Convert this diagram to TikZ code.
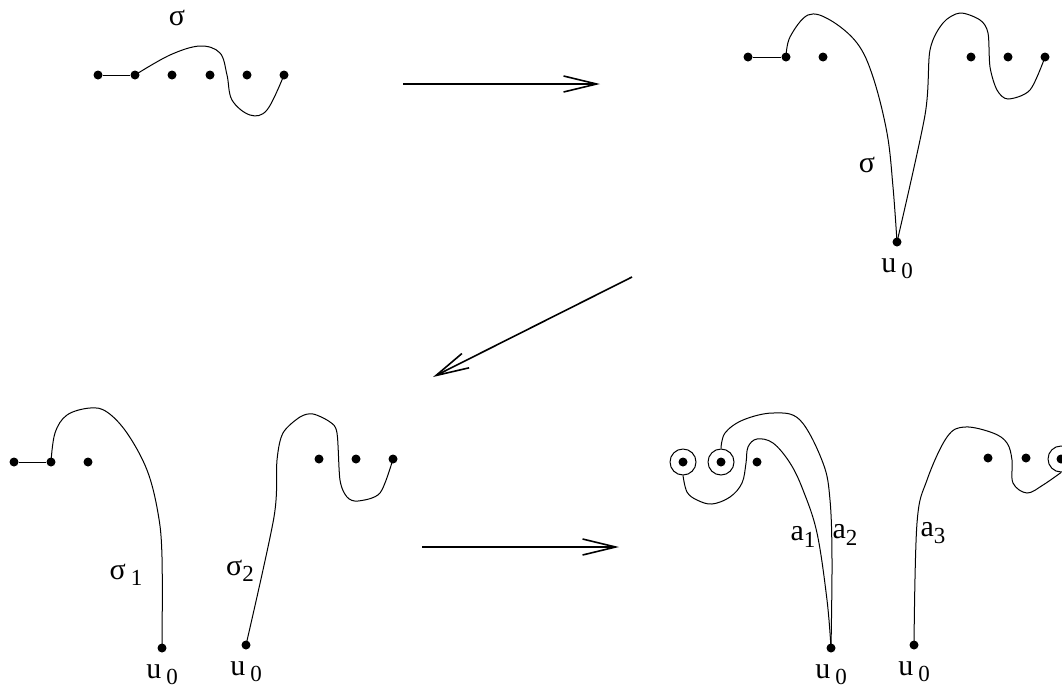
\documentclass[tikz,border=0pt]{standalone}
\usepackage{fontspec}
\setmainfont{Liberation Serif}
\usetikzlibrary{arrows.meta, positioning}

\newcommand{\lowsub}[1]{\raisebox{-0.45ex}{\fontsize{23}{26}\selectfont #1}}

\begin{document}
\begin{tikzpicture}[
  x=1pt, y=-1pt,
  dot/.style={circle, fill=black, inner sep=0pt, minimum size=9pt},
  ring/.style={circle, draw=black, line width=1pt, inner sep=0pt, minimum size=26pt},
  curve/.style={line width=1pt, black},
  bigarrow/.style={-{Straight Barb[length=33pt, width=16pt, line width=1.6pt]}, line width=1.6pt},
  lbl/.style={font=\fontsize{30}{34}\selectfont, inner sep=0pt}
]
\useasboundingbox (0,0) rectangle (1062,689);

% Step 1: the curve sigma over the punctures
\foreach \n/\x in {1/98, 2/135, 3/172, 4/210, 5/247, 6/284}
  \node[dot] (p\n) at (\x,75) {};
\draw[curve] (p1) -- (p2);
\draw[curve] plot[smooth, tension=0.6] coordinates {(p2.center) (170,55) (200,46) (220,53) (227,75) (232,100) (250,115) (267,110) (p6.center)};
\node[lbl] (s0) at (177,18) {σ};

% Step 2: sigma pulled to the base point
\foreach \n/\x in {1/748, 2/786, 3/823, 4/971, 5/1008, 6/1045}
  \node[dot] (q\n) at (\x,57) {};
\node[dot] (u1) at (897,242) {};
\draw[curve] (q1) -- (q2);
\draw[curve] plot[smooth, tension=0.6] coordinates {(q2.center) (790,37) (808,15) (830,20) (857,43) (873,77) (887,133) (893,187) (u1.center)};
\draw[curve] plot[smooth, tension=0.5] coordinates {(u1.center) (925,115) (930,50) (943,23) (960,13) (980,20) (988,33) (990,67) (997,90) (1008,99) (1030,90) (q6.center)};
\node[lbl] at (867,165) {σ};
\node[lbl, below=12pt of u1] {u\,\lowsub{0}};

% Step 3: split into sigma_1 and sigma_2
\foreach \n/\x in {1/14, 2/51, 3/88}
  \node[dot] (r\n) at (\x,462) {};
\foreach \n/\x in {1/319, 2/356, 3/393}
  \node[dot] (t\n) at (\x,459) {};
\node[dot] (u2) at (162,648) {};
\node[dot] (u3) at (246,645) {};
\draw[curve] (r1) -- (r2);
\draw[curve] plot[smooth, tension=0.6] coordinates {(r2.center) (55,433) (67,415) (90,408) (107,412) (127,433) (147,470) (158,513) (162,557) (u2.center)};
\draw[curve] plot[smooth, tension=0.5] coordinates {(u3.center) (274,517) (277,460) (283,433) (300,417) (313,414) (330,422) (337,433) (340,480) (347,497) (358,501) (380,493) (t3.center)};
\node[lbl] at (126,575) {σ\,\lowsub{1}};
\node[lbl] at (240,571) {σ\lowsub{2}};
\node[lbl, below=12pt of u2] {u\,\lowsub{0}};
\node[lbl, below=12pt of u3] {u\,\lowsub{0}};

% Step 4: arcs a_1, a_2, a_3
\node[dot] (d1) at (683,462) {};
\node[ring] (c1) at (683,462) {};
\node[dot] (d2) at (721,462) {};
\node[ring] (c2) at (721,462) {};
\node[dot] (d3) at (757,462) {};
\node[dot] (u4) at (831,648) {};
\node[dot] (d4) at (988,458) {};
\node[dot] (d5) at (1026,458) {};
\node[dot] (d6) at (1061,459) {};
\node[ring] (c3) at (1061,459) {};
\node[dot] (u5) at (914,645) {};
\draw[curve] plot[smooth, tension=0.6] coordinates {(c1.south) (687,492) (697,500) (712,504) (730,497) (742,483) (746,463) (748,447) (757,439) (773,443) (790,463) (803,490) (817,533) (827,600) (u4.center)};
\draw[curve] plot[smooth, tension=0.6] coordinates {(c2.north) (725,433) (743,420) (773,413) (800,420) (823,463) (830,500) (832,560) (u4.center)};
\draw[curve] plot[smooth, tension=0.6] coordinates {(u5.center) (917,523) (927,480) (947,437) (965,427) (993,433) (1007,443) (1012,460) (1013,483) (1027,493) (1043,485) (c3.south)};
\node[lbl] at (803,537) {a\lowsub{1}};
\node[lbl] at (845,535) {a\lowsub{2}};
\node[lbl] at (933,533) {a\lowsub{3}};
\node[lbl, below=12pt of u4] {u\,\lowsub{0}};
\node[lbl, below=12pt of u5] {u\,\lowsub{0}};

% Arrows between steps
\coordinate (A1) at (403,84);
\coordinate (B1) at (600,84);
\coordinate (A2) at (632,277);
\coordinate (B2) at (433,377);
\coordinate (A3) at (422,547);
\coordinate (B3) at (619,547);
\draw[bigarrow] (A1) -- (B1);
\draw[bigarrow] (A2) -- (B2);
\draw[bigarrow] (A3) -- (B3);

\end{tikzpicture}
\end{document}
